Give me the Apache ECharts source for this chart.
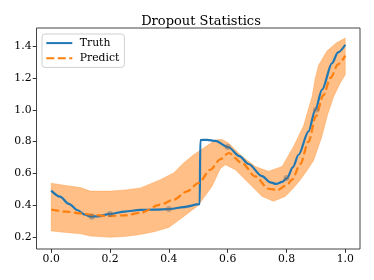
<!DOCTYPE html>
<html>
<head>
<meta charset="utf-8">
<script src="https://cdn.jsdelivr.net/npm/echarts@6/dist/echarts.min.js"></script>
<style>
html,body{margin:0;padding:0;background:#fff;}
#chart{width:374px;height:280px;}
</style>
</head>
<body>
<div id="chart"></div>
<script>
// ---- data ----
const titleText = 'Dropout Statistics';
const xTicks = [0.0, 0.2, 0.4, 0.6, 0.8, 1.0];
const yTicks = [0.2, 0.4, 0.6, 0.8, 1.0, 1.2, 1.4];

const truthX = [0, 0.03, 0.06, 0.09, 0.115, 0.135, 0.16, 0.2, 0.25, 0.303, 0.35, 0.405, 0.45, 0.505, 0.507, 0.53, 0.558, 0.603, 0.64, 0.671, 0.717, 0.745, 0.765, 0.785, 0.802, 0.822, 0.841, 0.875, 0.898, 0.921, 0.955, 0.975, 1.0];
const truthY = [0.493, 0.455, 0.41, 0.37, 0.342, 0.33, 0.332, 0.347, 0.362, 0.372, 0.374, 0.378, 0.39, 0.408, 0.81, 0.812, 0.805, 0.765, 0.71, 0.66, 0.584, 0.545, 0.535, 0.548, 0.572, 0.64, 0.718, 0.865, 1.0, 1.126, 1.293, 1.36, 1.408];

const predX = [0, 0.05, 0.1, 0.15, 0.19, 0.25, 0.303, 0.371, 0.416, 0.462, 0.501, 0.541, 0.575, 0.603, 0.649, 0.694, 0.739, 0.77, 0.802, 0.819, 0.847, 0.875, 0.9, 0.925, 0.95, 0.975, 1.0];
const predY = [0.375, 0.362, 0.35, 0.34, 0.333, 0.338, 0.353, 0.405, 0.436, 0.488, 0.541, 0.624, 0.69, 0.729, 0.665, 0.582, 0.505, 0.497, 0.53, 0.562, 0.66, 0.8, 0.96, 1.09, 1.2, 1.285, 1.34];

const bandHighX = [0, 0.05, 0.1, 0.133, 0.2, 0.25, 0.303, 0.371, 0.416, 0.45, 0.484, 0.518, 0.558, 0.58, 0.603, 0.649, 0.694, 0.739, 0.785, 0.824, 0.858, 0.887, 0.898, 0.909, 0.938, 0.97, 1.0];
const bandHigh  = [0.54, 0.525, 0.512, 0.49, 0.49, 0.497, 0.51, 0.562, 0.604, 0.666, 0.718, 0.76, 0.81, 0.815, 0.792, 0.708, 0.645, 0.614, 0.645, 0.77, 0.9, 1.084, 1.2, 1.28, 1.37, 1.42, 1.45];
const bandLowX  = [0, 0.05, 0.1, 0.133, 0.2, 0.25, 0.303, 0.35, 0.4, 0.45, 0.5, 0.547, 0.575, 0.592, 0.626, 0.671, 0.717, 0.756, 0.796, 0.824, 0.847, 0.87, 0.892, 0.92, 0.94, 0.96, 0.983, 1.0];
const bandLow   = [0.24, 0.23, 0.222, 0.208, 0.2, 0.205, 0.218, 0.235, 0.262, 0.33, 0.4, 0.52, 0.63, 0.656, 0.624, 0.541, 0.457, 0.426, 0.457, 0.51, 0.56, 0.62, 0.68, 0.83, 0.97, 1.08, 1.168, 1.22];

const dotX = [0.138, 0.2, 0.4, 0.6, 0.8, 0.9];
const dotY = [0.33, 0.347, 0.378, 0.767, 0.572, 1.0];

const FONT = 'DejaVu Serif';
const chart = echarts.init(document.getElementById('chart'), null, {renderer: 'canvas'});

const zip = (xs, ys) => xs.map((x, i) => [x, ys[i]]);

const option = {
  animation: false,
  backgroundColor: '#fff',
  title: {
    text: titleText,
    left: 196, top: 10, textAlign: 'center',
    textStyle: {fontFamily: FONT, fontSize: 13, fontWeight: 'normal', color: '#000'}
  },
  legend: {
    data: ['Truth', 'Predict'],
    orient: 'vertical',
    left: 42, top: 34,
    padding: [3.5, 5, 3.5, 3.3],
    itemWidth: 26, itemHeight: 14, itemGap: 4,
    itemStyle: {opacity: 0, borderWidth: 0},
    backgroundColor: 'rgba(255,255,255,0.8)',
    borderColor: '#d0d0d0', borderWidth: 1, borderRadius: 3,
    textStyle: {fontFamily: FONT, fontSize: 10.8, color: '#000', padding: [0, 0, 0, 2.5]}
  },
  grid: {left: 36.5, right: 14, top: 28, bottom: 31, containLabel: false, outerBoundsMode: 'none',
         show: true, borderColor: '#444', borderWidth: 1, backgroundColor: 'transparent'},
  xAxis: {
    type: 'value', min: -0.05, max: 1.05,
    splitLine: {show: false},
    axisLine: {show: false, onZero: false},
    axisTick: {show: true, inside: false, length: 3.8, customValues: xTicks, lineStyle: {color: '#333'}},
    axisLabel: {customValues: xTicks, margin: 5, fontFamily: FONT, fontSize: 10.8, color: '#000',
                formatter: v => v.toFixed(1)}
  },
  yAxis: {
    type: 'value', min: 0.127, max: 1.513,
    splitLine: {show: false},
    axisLine: {show: false, onZero: false},
    axisTick: {show: true, inside: false, length: 3.8, customValues: yTicks, lineStyle: {color: '#333'}},
    axisLabel: {customValues: yTicks, margin: 5, fontFamily: FONT, fontSize: 10.8, color: '#000',
                formatter: v => v.toFixed(1)}
  },
  series: [
    {
      name: 'band', type: 'custom', z: 1, silent: true,
      data: [[bandHighX[0], bandHigh[0]]],
      renderItem: function (params, api) {
        const pts = [];
        for (let i = 0; i < bandHighX.length; i++) pts.push(api.coord([bandHighX[i], bandHigh[i]]));
        for (let i = bandLowX.length - 1; i >= 0; i--) pts.push(api.coord([bandLowX[i], bandLow[i]]));
        return {type: 'polygon', shape: {points: pts, smooth: 0}, style: {fill: 'rgba(255,127,14,0.5)', stroke: 'rgba(255,127,14,0.35)', lineWidth: 0.8}};
      }
    },
    {
      name: 'Truth', type: 'line', z: 3, data: zip(truthX, truthY),
      showSymbol: false, symbol: 'none', smooth: 0.3, smoothMonotone: 'x',
      color: '#1f77b4',
      lineStyle: {color: '#1f77b4', width: 2.2}
    },
    {
      name: 'Predict', type: 'line', z: 4, data: zip(predX, predY),
      showSymbol: false, symbol: 'none', smooth: 0.3, smoothMonotone: 'x',
      color: '#ff7f0e',
      lineStyle: {color: '#ff7f0e', width: 2.2, type: [8, 3.5]}
    },
    {
      name: 'points', type: 'scatter', z: 5, data: zip(dotX, dotY),
      symbolSize: 6, itemStyle: {color: 'rgba(110,110,110,0.55)'}
    }
  ]
};
chart.setOption(option);
</script>
</body>
</html>
